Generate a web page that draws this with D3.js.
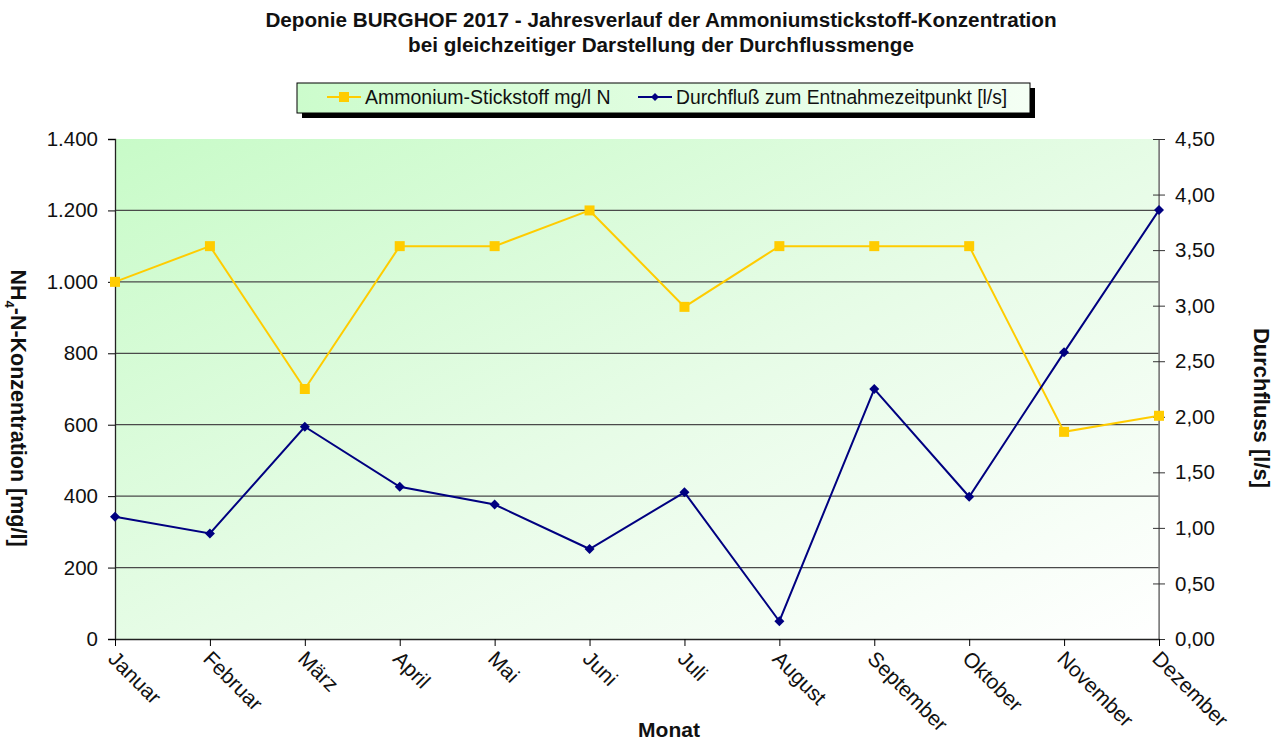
<!DOCTYPE html>
<html>
<head>
<meta charset="utf-8">
<script src="https://cdn.jsdelivr.net/npm/d3@7"></script>
<style>
  html, body { margin: 0; padding: 0; background: #fff; }
  svg { display: block; font-family: "Liberation Sans", Arial, sans-serif; }
</style>
</head>
<body>
<svg id="chart" width="1284" height="740"></svg>
<script>
// Monthly values for 2017
const months = ["Januar", "Februar", "März", "April", "Mai", "Juni", "Juli",
                "August", "September", "Oktober", "November", "Dezember"];
const ammonium = [1000, 1100, 700, 1100, 1100, 1200, 930, 1100, 1100, 1100, 580, 625];
const durchfluss = [1.10, 0.95, 1.91, 1.37, 1.21, 0.81, 1.32, 0.16, 2.25, 1.28, 2.58, 3.86];
const leftTicks = [0, 200, 400, 600, 800, 1000, 1200, 1400];
const rightTicks = [0, 0.5, 1, 1.5, 2, 2.5, 3, 3.5, 4, 4.5];

const svg = d3.select("#chart");
const plot = { left: 115, right: 1159, top: 139, bottom: 639 };

const x = d3.scalePoint().domain(months).range([plot.left, plot.right]);
const yL = d3.scaleLinear().domain([0, 1400]).range([plot.bottom, plot.top]);
const yR = d3.scaleLinear().domain([0, 4.5]).range([plot.bottom, plot.top]);

const deFmt0 = v => d3.format(",.0f")(v).replace(/,/g, ".");
const deFmt2 = v => d3.format(".2f")(v).replace(".", ",");

const defs = svg.append("defs");
const bg = defs.append("linearGradient").attr("id", "bgGrad")
  .attr("x1", "0%").attr("y1", "0%").attr("x2", "100%").attr("y2", "100%");
bg.append("stop").attr("offset", "0%").attr("stop-color", "#c8fbc8");
bg.append("stop").attr("offset", "55%").attr("stop-color", "#e8fce8");
bg.append("stop").attr("offset", "100%").attr("stop-color", "#ffffff");

const lg = defs.append("linearGradient").attr("id", "legGrad")
  .attr("x1", "0%").attr("y1", "0%").attr("x2", "100%").attr("y2", "0%");
lg.append("stop").attr("offset", "0%").attr("stop-color", "#ccfccc");
lg.append("stop").attr("offset", "100%").attr("stop-color", "#f4fff4");

// Plot background
svg.append("rect")
  .attr("x", plot.left).attr("y", plot.top)
  .attr("width", plot.right - plot.left).attr("height", plot.bottom - plot.top)
  .attr("fill", "url(#bgGrad)");

// Horizontal gridlines
svg.append("g").selectAll("line")
  .data(leftTicks.filter(d => d > 0 && d < 1400))
  .join("line")
  .attr("x1", plot.left).attr("x2", plot.right)
  .attr("y1", d => yL(d)).attr("y2", d => yL(d))
  .attr("stroke", "#4a4a4a").attr("stroke-width", 1.2);

// Right border of plot area
svg.append("line")
  .attr("x1", plot.right).attr("x2", plot.right)
  .attr("y1", plot.top).attr("y2", plot.bottom)
  .attr("stroke", "#808080").attr("stroke-width", 1.5);

// Left axis
const axL = svg.append("g").attr("transform", `translate(${plot.left},0)`)
  .call(d3.axisLeft(yL).tickValues(leftTicks).tickFormat(deFmt0).tickSize(7).tickPadding(10));
// Right axis
const axR = svg.append("g").attr("transform", `translate(${plot.right},0)`)
  .call(d3.axisRight(yR).tickValues(rightTicks).tickFormat(deFmt2).tickSize(6).tickPadding(10));
axR.select(".domain").attr("stroke", "#808080");
axR.selectAll(".tick line").attr("stroke", "#333").attr("x1", -6).attr("x2", 6);
// Bottom axis
const axB = svg.append("g").attr("transform", `translate(0,${plot.bottom})`)
  .call(d3.axisBottom(x).tickSize(7).tickSizeOuter(0).tickFormat(""));

[axL, axR, axB].forEach(a => {
  a.selectAll("text").attr("font-size", 20.5).attr("fill", "#111")
    .attr("font-family", "'Liberation Sans', Arial, sans-serif");
});
axL.select(".domain").attr("stroke", "#222").attr("stroke-width", 1.3);
axB.select(".domain").attr("stroke", "#222").attr("stroke-width", 1.3);

// Rotated month labels
svg.append("g").selectAll("text")
  .data(months)
  .join("text")
  .attr("transform", d => `translate(${x(d) - 8},${plot.bottom + 21}) rotate(45)`)
  .attr("font-size", 21).attr("fill", "#111")
  .text(d => d);

// Series lines
const lineA = d3.line().x((d, i) => x(months[i])).y(d => yL(d));
const lineD = d3.line().x((d, i) => x(months[i])).y(d => yR(d));

svg.append("path").datum(ammonium)
  .attr("d", lineA).attr("fill", "none")
  .attr("stroke", "#ffcc00").attr("stroke-width", 2);
svg.append("g").selectAll("rect")
  .data(ammonium).join("rect")
  .attr("x", (d, i) => x(months[i]) - 5).attr("y", d => yL(d) - 5)
  .attr("width", 10).attr("height", 10).attr("fill", "#ffcc00");

svg.append("path").datum(durchfluss)
  .attr("d", lineD).attr("fill", "none")
  .attr("stroke", "#000080").attr("stroke-width", 2);
svg.append("g").selectAll("path")
  .data(durchfluss).join("path")
  .attr("transform", (d, i) => `translate(${x(months[i])},${yR(d)})`)
  .attr("d", "M0,-5L5,0L0,5L-5,0Z").attr("fill", "#000080");

// Title
const title = svg.append("text").attr("x", 661).attr("y", 27)
  .attr("text-anchor", "middle").attr("font-weight", "bold").attr("font-size", 20.7).attr("fill", "#111");
title.append("tspan").attr("x", 661).attr("dy", 0)
  .text("Deponie BURGHOF 2017 - Jahresverlauf der Ammoniumstickstoff-Konzentration");
title.append("tspan").attr("x", 661).attr("dy", 25)
  .text("bei gleichzeitiger Darstellung der Durchflussmenge");

// Legend
const leg = svg.append("g");
leg.append("rect").attr("x", 302).attr("y", 88).attr("width", 733).attr("height", 30).attr("fill", "#000");
leg.append("rect").attr("x", 297).attr("y", 83).attr("width", 733).attr("height", 30)
  .attr("fill", "url(#legGrad)").attr("stroke", "#000").attr("stroke-width", 1);
leg.append("line").attr("x1", 327).attr("x2", 361).attr("y1", 97).attr("y2", 97)
  .attr("stroke", "#ffcc00").attr("stroke-width", 2);
leg.append("rect").attr("x", 339).attr("y", 92).attr("width", 10).attr("height", 10).attr("fill", "#ffcc00");
leg.append("text").attr("x", 365).attr("y", 104).attr("font-size", 19.5).attr("fill", "#111")
  .text("Ammonium-Stickstoff mg/l N");
leg.append("line").attr("x1", 638).attr("x2", 672).attr("y1", 97).attr("y2", 97)
  .attr("stroke", "#000080").attr("stroke-width", 2);
leg.append("path").attr("transform", "translate(655,97)").attr("d", "M0,-4L4,0L0,4L-4,0Z").attr("fill", "#000080");
leg.append("text").attr("x", 676).attr("y", 104).attr("font-size", 19.3).attr("fill", "#111")
  .text("Durchfluß zum Entnahmezeitpunkt [l/s]");

// Axis titles
const yTitle = svg.append("text")
  .attr("transform", "translate(11,408) rotate(90)")
  .attr("text-anchor", "middle").attr("font-weight", "bold").attr("font-size", 21.5).attr("fill", "#111");
yTitle.append("tspan").text("NH");
yTitle.append("tspan").attr("font-size", 13).attr("dy", 6).text("4");
yTitle.append("tspan").attr("dy", -6).text("-N-Konzentration  [mg/l]");

svg.append("text")
  .attr("transform", "translate(1254,408) rotate(90)")
  .attr("text-anchor", "middle").attr("font-weight", "bold").attr("font-size", 22).attr("fill", "#111")
  .text("Durchfluss [l/s]");

svg.append("text").attr("x", 669).attr("y", 737)
  .attr("text-anchor", "middle").attr("font-weight", "bold").attr("font-size", 21).attr("fill", "#111")
  .text("Monat");
</script>
</body>
</html>
